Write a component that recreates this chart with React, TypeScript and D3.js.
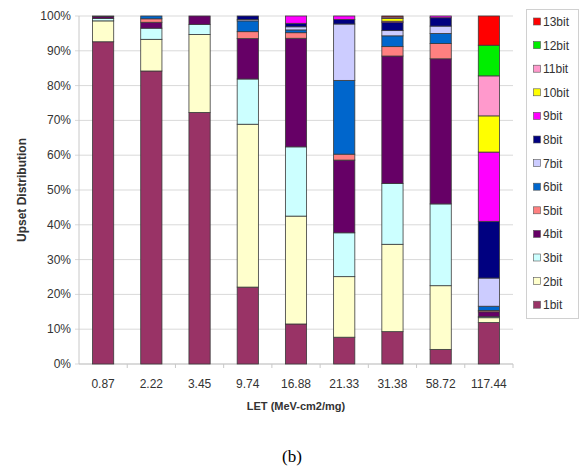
import React from 'react';
import { scaleBand, scaleLinear, stack, stackOffsetExpand } from 'd3';

const svgWidth = 583;
const svgHeight = 468;

const categories = ['0.87', '2.22', '3.45', '9.74', '16.88', '21.33', '31.38', '58.72', '117.44'];
const bitKeys = ['1bit', '2bit', '3bit', '4bit', '5bit', '6bit', '7bit', '8bit', '9bit', '10bit', '11bit', '12bit', '13bit'];
const bitColors = ['#993366', '#FFFFCC', '#CCFFFF', '#660066', '#FF8080', '#0066CC', '#CCCCFF', '#000080', '#FF00FF', '#FFFF00', '#FF99CC', '#00EE00', '#FF0000'];

// percent of upsets per LET, one array per multiplicity
const bit1 = [92.6, 84.2, 72.3, 22.1, 11.5, 7.7, 9.3, 4.2, 11.9];
const bit2 = [6.0, 9.1, 22.4, 46.8, 31.0, 17.4, 25.1, 18.3, 1.4];
const bit3 = [0.7, 3.2, 2.9, 13.0, 19.9, 12.6, 17.5, 23.5, 0.3];
const bit4 = [0.5, 1.7, 2.4, 11.6, 31.2, 20.9, 36.6, 41.7, 1.4];
const bit5 = [0.2, 1.0, 0, 2.0, 1.6, 1.7, 2.7, 4.4, 0.4];
const bit6 = [0, 0.8, 0, 3.1, 0.8, 21.2, 3.1, 2.9, 1.2];
const bit7 = [0, 0, 0, 0.4, 0.9, 16.2, 1.5, 2.1, 8.1];
const bit8 = [0, 0, 0, 1.0, 1.0, 1.3, 2.3, 2.4, 16.3];
const bit9 = [0, 0, 0, 0, 2.1, 1.0, 0.4, 0.5, 19.9];
const bit10 = [0, 0, 0, 0, 0, 0, 0.8, 0, 10.4];
const bit11 = [0, 0, 0, 0, 0, 0, 0.4, 0, 11.5];
const bit12 = [0, 0, 0, 0, 0, 0, 0, 0, 8.8];
const bit13 = [0, 0, 0, 0, 0, 0, 0.3, 0, 8.4];

const yTicks = [0, 0.1, 0.2, 0.3, 0.4, 0.5, 0.6, 0.7, 0.8, 0.9, 1];

const seriesValues = [bit1, bit2, bit3, bit4, bit5, bit6, bit7, bit8, bit9, bit10, bit11, bit12, bit13];

const plotLeft = 79;
const plotRight = 513;
const plotTop = 16;
const plotBottom = 364;

const font = 'Arial, "Liberation Sans", sans-serif';
const textColor = '#333';

export default function App() {
  const rows = categories.map((c, i) => {
    const row: any = { let: c };
    bitKeys.forEach((k, j) => {
      row[k] = seriesValues[j][i];
    });
    return row;
  });

  const stacked = stack().keys(bitKeys).offset(stackOffsetExpand)(rows);

  const x = scaleBand().domain(categories).range([plotLeft, plotRight]).paddingInner(0.56).paddingOuter(0.28);
  const y = scaleLinear().domain([0, 1]).range([plotBottom, plotTop]);
  const step = x.step();
  const bandStart = plotLeft;

  return (
    <svg width={svgWidth} height={svgHeight} style={{ position: 'absolute', left: 0, top: 0 }}>
      <rect width={svgWidth} height={svgHeight} fill="#fff" />
      {/* gridlines */}
      {yTicks.map((t) => (
        <line key={t} x1={plotLeft - 4} x2={plotRight} y1={y(t)} y2={y(t)} stroke="#d9d9d9" strokeWidth={1} />
      ))}
      <line x1={plotLeft} x2={plotLeft} y1={plotTop} y2={plotBottom} stroke="#c8c8c8" />
      <line x1={plotLeft} x2={plotRight} y1={plotBottom} y2={plotBottom} stroke="#c8c8c8" />
      {categories.map((c, i) => (
        <line key={c} x1={bandStart + step * (i + 1)} x2={bandStart + step * (i + 1)} y1={plotBottom} y2={plotBottom + 4} stroke="#c8c8c8" />
      ))}
      {yTicks.map((t) => (
        <text key={t} x={plotLeft - 8} y={y(t) + 4} textAnchor="end" fontFamily={font} fontSize={12} fill={textColor}>
          {Math.round(t * 100)}%
        </text>
      ))}
      {/* bars */}
      {stacked.map((s, j) => (
        <g key={s.key} fill={bitColors[j]}>
          {s.map((d, i) =>
            d[1] - d[0] > 0 ? (
              <rect
                key={i}
                x={x(categories[i])}
                width={x.bandwidth()}
                y={y(d[1])}
                height={y(d[0]) - y(d[1])}
                stroke="#3a3a3a"
                strokeWidth={0.8}
              />
            ) : null
          )}
        </g>
      ))}
      {categories.map((c) => (
        <text key={c} x={(x(c) as number) + x.bandwidth() / 2} y={388} textAnchor="middle" fontFamily={font} fontSize={12} fill={textColor}>
          {c}
        </text>
      ))}
      <text x={296} y={410} textAnchor="middle" fontFamily={font} fontSize={11} fontWeight="bold" fill={textColor}>
        LET (MeV-cm2/mg)
      </text>
      <text transform={`translate(26, ${(plotTop + plotBottom) / 2}) rotate(-90)`} textAnchor="middle" fontFamily={font} fontSize={12} fontWeight="bold" fill={textColor}>
        Upset Distribution
      </text>
      {/* legend */}
      <rect x={526.5} y={9.5} width={52} height={309} fill="#fff" stroke="#d0d0d0" />
      {bitKeys
        .slice()
        .reverse()
        .map((k, i) => {
          const j = bitKeys.length - 1 - i;
          const ly = 22 + i * 23.6;
          return (
            <g key={k}>
              <rect x={533.5} y={ly - 4} width={7} height={7} fill={bitColors[j]} stroke="#555" strokeWidth={0.6} />
              <text x={543} y={ly + 4} fontFamily={font} fontSize={12} fill={textColor}>
                {k}
              </text>
            </g>
          );
        })}
      <text x={292} y={462} textAnchor="middle" fontFamily='"Times New Roman", "Liberation Serif", serif' fontSize={17} fill="#000">
        (b)
      </text>
    </svg>
  );
}
